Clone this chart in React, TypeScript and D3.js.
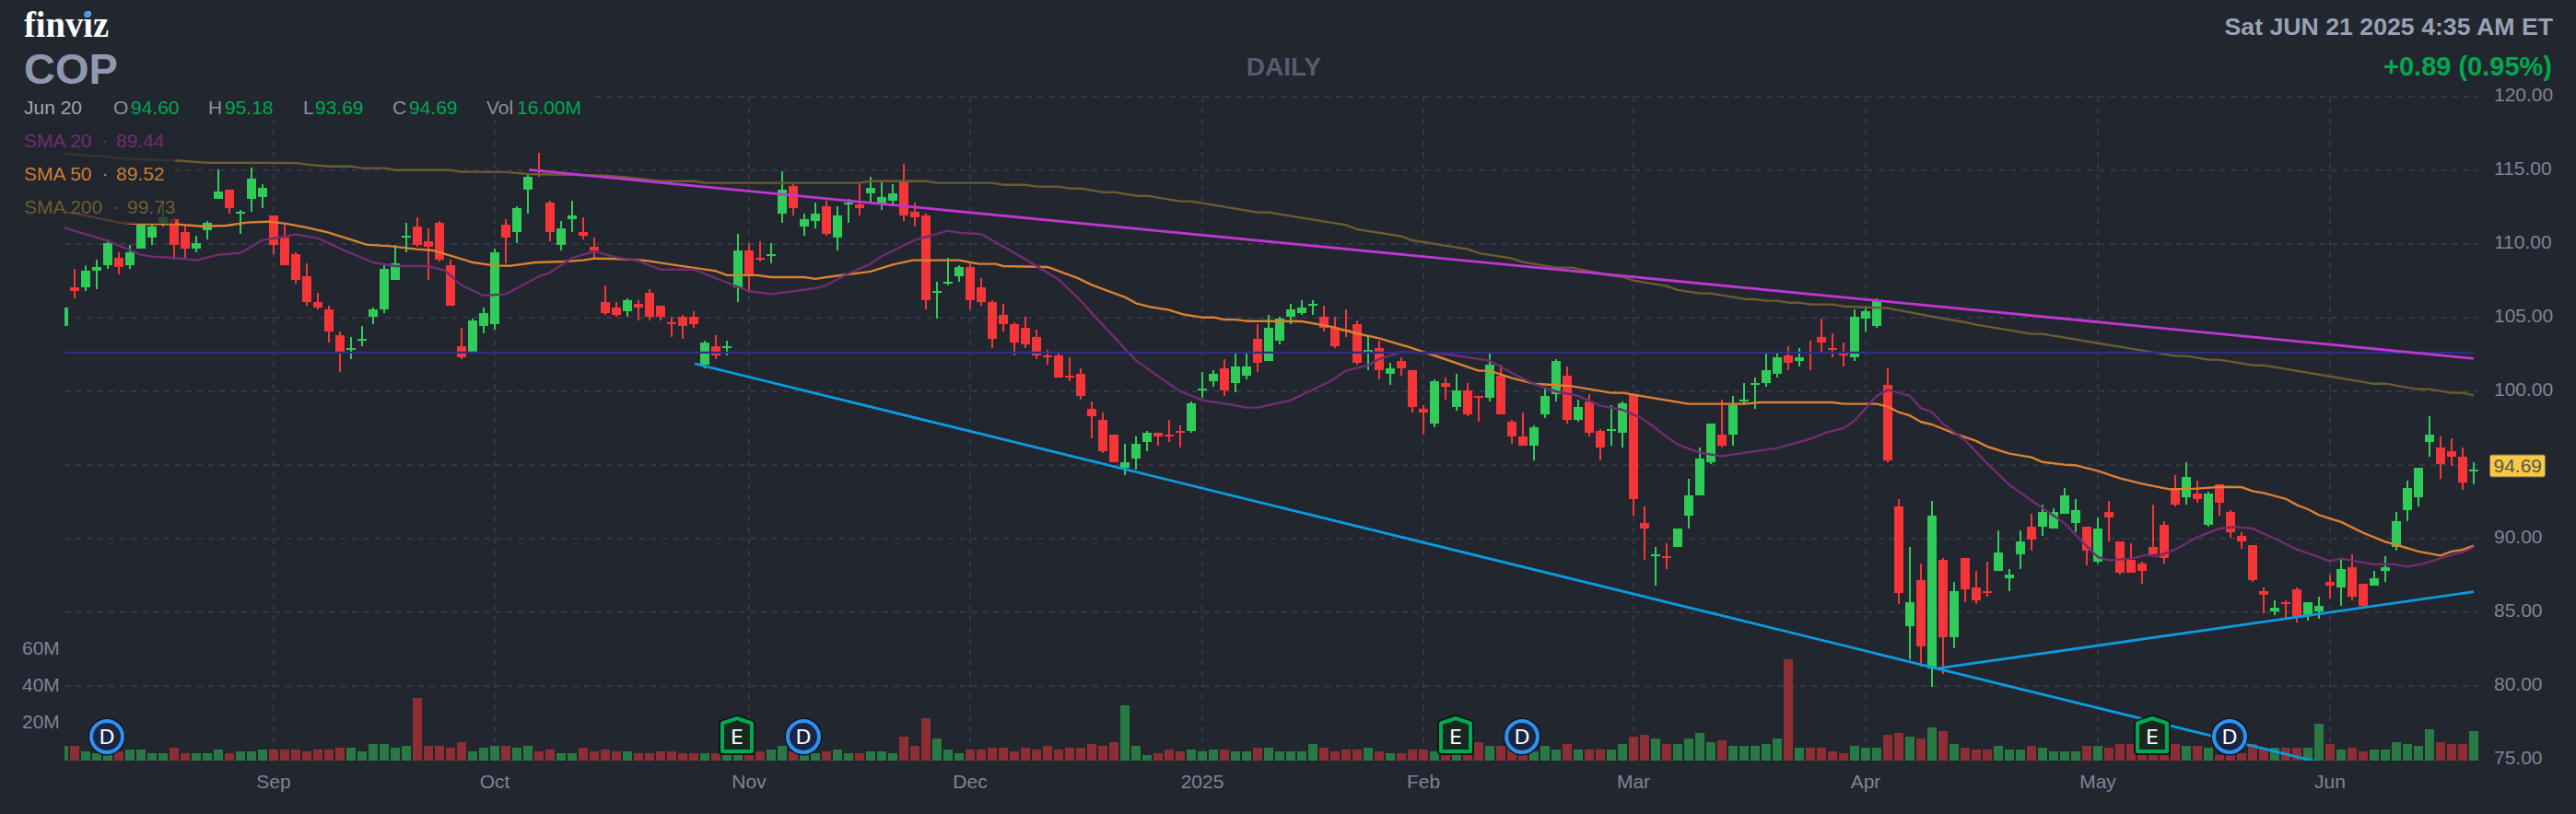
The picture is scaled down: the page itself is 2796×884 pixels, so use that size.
import React, { useEffect, useRef } from 'react';
import * as d3 from 'd3';

const width = 2796;
const height = 884;

const opens = [
  104.44,107.06,107.06,108.19,108.56,109.06,108.56,109.69,110.44,111.31,
  111.69,110.81,109.69,110.94,113.06,113.69,112.06,113.06,113.19,111.94,
  110.44,109.31,107.81,106.06,105.56,103.81,102.81,103.44,105.06,105.56,
  107.56,110.44,111.19,110.19,111.44,108.56,103.06,102.69,104.44,104.56,
  111.31,110.81,113.69,115.06,112.81,109.94,111.69,110.81,109.81,106.06,
  105.69,105.44,105.94,106.69,105.81,104.69,105.06,105.06,101.81,103.06,
  102.94,107.06,109.56,109.06,109.19,112.06,113.94,111.19,111.56,112.56,
  110.44,112.69,112.69,113.44,112.69,112.94,114.31,112.19,111.94,106.69,
  107.31,107.81,108.44,107.06,106.06,105.19,104.56,104.31,103.69,102.44,
  102.44,101.06,101.19,98.81,98.06,97.06,94.81,95.44,96.56,97.19,
  97.06,97.31,97.31,100.06,100.69,101.56,100.56,101.06,103.56,102.06,
  103.44,105.06,105.31,105.81,105.06,104.31,104.19,104.56,102.56,102.94,
  101.19,102.06,101.44,98.81,97.81,100.56,98.94,100.06,99.69,99.56,
  101.06,97.94,96.94,96.31,98.44,99.81,101.06,98.06,99.31,97.31,
  97.31,97.19,99.81,91.06,88.81,88.81,89.44,91.56,92.94,95.19,
  97.06,97.06,99.31,100.44,100.56,101.19,102.44,102.06,102.69,103.69,
  102.94,102.56,102.31,104.94,104.44,100.44,92.19,84.06,87.19,81.19,
  88.56,83.31,88.69,86.69,86.44,87.81,87.31,88.94,90.81,90.81,
  90.69,91.69,91.06,90.81,88.44,91.81,89.81,88.56,88.31,89.44,
  90.94,93.44,92.81,93.06,90.94,93.69,91.81,90.19,89.56,86.44,
  85.06,85.69,86.56,84.81,85.06,87.06,86.69,88.06,86.94,86.81,
  87.81,89.44,91.94,92.81,96.56,96.19,95.94,95.56,94.60,
];
const highs = [
  105.69,108.31,108.54,108.94,110.31,109.44,109.94,111.40,111.31,112.81,
  111.81,111.31,110.56,111.56,115.06,113.69,112.31,115.19,114.06,111.94,
  111.31,109.44,108.69,106.69,105.81,104.06,103.69,104.44,105.69,108.56,
  109.94,111.44,111.81,111.06,111.56,108.94,104.31,104.94,105.69,109.69,
  111.69,112.56,114.69,116.19,112.94,111.56,112.94,111.81,110.44,107.19,
  106.06,106.31,106.19,106.94,105.81,105.06,105.19,105.44,103.44,103.81,
  103.44,110.69,110.06,110.19,110.06,114.94,114.06,112.06,112.81,112.94,
  112.56,113.06,114.19,114.56,114.19,114.06,115.44,112.81,112.06,107.44,
  109.06,108.56,108.81,107.69,106.19,105.94,104.69,105.06,104.19,102.81,
  102.69,102.31,101.56,99.31,98.56,97.06,96.44,96.94,97.31,97.19,
  98.06,97.69,99.31,101.31,101.44,102.19,102.56,102.56,104.56,105.19,
  105.06,105.94,106.19,106.19,105.81,105.06,105.56,104.81,103.81,103.44,
  101.94,102.31,101.44,99.06,100.81,100.94,101.19,100.56,99.69,102.69,
  101.81,98.06,98.56,97.69,100.31,102.19,101.69,99.44,99.81,97.44,
  99.06,99.31,99.81,92.19,89.44,89.69,90.69,94.06,96.19,97.81,
  99.44,99.69,100.56,100.94,102.69,102.69,103.06,102.94,103.44,104.94,
  103.94,103.31,105.56,105.81,106.31,101.56,92.69,89.44,88.31,92.56,
  88.69,87.06,88.69,87.81,88.44,90.56,87.94,90.56,91.69,92.31,
  92.06,93.44,92.69,90.81,91.44,92.56,89.81,89.69,88.44,92.31,
  91.19,94.31,95.19,93.94,93.19,93.69,91.94,90.44,89.56,86.69,
  85.81,85.81,86.69,85.69,86.06,87.56,88.69,88.94,86.94,87.81,
  88.81,91.81,93.94,94.81,98.31,96.94,96.81,96.19,95.18,
];
const lows = [
  104.44,106.31,106.81,106.94,108.31,107.94,108.31,109.69,109.94,111.19,
  108.94,108.94,109.44,110.31,113.06,112.06,110.69,112.19,112.44,109.31,
  108.56,107.31,105.81,105.56,103.31,101.31,102.19,103.06,104.56,105.31,
  107.56,109.44,109.81,107.56,108.81,105.81,102.19,102.69,103.94,104.19,
  108.69,110.06,112.06,114.56,110.19,109.56,110.81,110.31,109.06,105.19,
  105.06,105.06,104.81,104.81,104.81,103.69,103.56,104.31,101.56,102.19,
  102.44,106.06,106.69,108.81,108.69,111.44,111.94,110.56,111.06,110.56,
  109.56,111.44,111.94,112.81,112.31,112.69,111.56,111.19,105.56,104.94,
  107.19,107.44,105.56,105.81,102.94,104.06,102.44,102.94,102.19,101.81,
  100.94,100.69,99.44,96.81,95.81,95.19,94.31,94.69,95.94,96.31,
  96.56,96.19,97.19,99.56,100.31,99.69,99.94,100.81,101.31,102.06,
  103.19,104.56,105.19,105.19,104.06,102.94,103.69,101.81,101.44,100.81,
  100.44,101.06,98.56,97.06,97.56,99.44,98.69,98.31,97.94,99.31,
  98.44,96.44,96.31,95.31,98.19,99.31,97.81,97.94,96.94,95.31,
  96.31,96.19,91.56,88.56,86.81,87.94,89.44,90.69,92.94,95.06,
  96.19,96.31,99.06,98.81,100.31,100.94,101.44,101.69,101.44,102.69,
  102.31,101.69,102.06,104.06,104.31,95.19,85.56,81.81,81.31,79.94,
  80.81,82.56,85.69,85.56,86.06,87.81,86.44,87.94,89.19,90.19,
  90.69,91.69,90.44,88.19,88.31,89.81,87.56,87.69,86.94,88.94,
  88.31,92.19,92.31,92.44,90.81,91.56,90.06,89.31,87.06,84.94,
  84.81,84.56,84.31,84.44,84.56,85.94,85.44,85.81,85.31,86.81,
  87.06,89.19,91.19,92.19,95.56,94.06,94.94,93.31,93.69,
];
const closes = [
  105.69,106.81,108.19,108.44,110.06,108.44,109.44,111.31,111.19,111.81,
  109.94,109.69,110.06,111.44,113.56,112.44,112.19,114.44,113.81,109.94,
  108.56,107.56,106.06,105.69,104.06,102.69,102.94,103.56,105.56,108.31,
  108.69,110.56,109.94,109.81,108.94,105.81,102.31,104.81,105.31,109.44,
  110.44,112.44,114.56,114.94,110.81,111.06,111.94,110.56,109.56,105.31,
  105.19,106.19,105.69,105.06,105.06,104.56,104.44,104.56,103.31,102.44,
  103.06,109.56,107.94,108.94,109.31,113.69,112.44,111.69,112.06,110.69,
  111.94,112.81,112.44,113.81,113.19,113.44,111.94,111.81,106.19,106.81,
  107.44,108.44,106.19,106.06,103.56,104.56,103.31,103.19,102.44,102.31,
  100.94,100.94,99.69,98.31,95.94,95.19,95.19,96.44,97.19,96.94,
  96.94,97.19,99.19,100.19,101.19,100.06,101.69,101.69,101.94,104.31,
  104.94,105.56,105.69,105.94,104.31,103.06,104.06,101.94,102.81,101.44,
  101.56,101.56,98.94,98.56,100.69,100.31,100.06,98.44,99.56,101.81,
  98.44,96.94,96.31,97.56,99.69,102.06,98.06,98.94,97.19,96.19,
  97.44,99.19,92.69,90.69,88.94,88.69,90.69,92.94,95.44,97.81,
  96.31,99.06,99.44,100.56,101.44,102.31,101.94,102.31,102.56,103.31,
  102.81,102.44,105.06,105.44,106.19,95.31,86.31,85.69,82.69,91.56,
  83.31,86.44,86.56,85.81,86.31,89.06,87.56,89.81,89.94,91.81,
  91.81,92.94,91.94,89.19,90.69,91.44,87.69,87.69,87.81,88.94,
  88.69,92.31,94.19,92.69,93.06,92.44,90.44,89.81,87.19,86.19,
  85.31,85.56,84.69,85.69,85.44,86.81,87.94,86.06,85.44,87.31,
  88.06,91.19,93.44,94.81,97.06,95.06,95.56,93.81,94.69,
];
// volume in millions
const volumes = [
  8,8,5,4,4,5,6,6,4,4,7,4,4,4,6,4,5,5,6,6,
  6,6,5,6,6,7,7,5,9,9,7,8,34,8,8,7,10,5,7,8,
  8,7,8,5,6,4,4,7,5,6,5,5,4,4,5,5,4,4,4,4,
  3,3,4,5,6,8,5,4,4,5,6,4,4,5,5,4,13,8,23,12,
  6,4,6,6,7,7,5,7,6,8,6,7,7,9,8,10,30,8,3,4,
  6,5,6,5,6,6,5,5,7,7,5,5,5,9,7,5,6,6,7,5,
  4,4,6,6,5,3,3,4,10,8,8,7,3,5,8,6,9,6,6,6,
  6,9,13,14,12,9,9,12,15,10,11,8,8,8,9,12,55,7,7,7,
  5,4,8,7,7,14,15,13,12,18,16,9,7,6,6,8,6,6,8,7,
  5,5,5,8,8,7,9,9,3,3,3,9,8,8,7,3,3,4,9,7,
  7,7,7,7,20,9,6,7,5,6,6,10,9,8,17,10,9,9,16,
];

// moving averages as [bar, price]
const sma20: [number, number][] = [
  [0,111.13],[4,110.21],[5,109.9],[7,109.27],[8,109.15],[10,109.06],[12,108.9],[14,109.27],[16,109.4],[18,110.27],
  [20,110.5],[21,110.65],[23,110.4],[25,109.7],[28,108.75],[30,108.5],[33,108.5],[34.5,108.2],[36,107.2],[38,106.5],
  [40,106.6],[41,107],[43,107.8],[44,108.06],[46,109.06],[48,109.5],[50,109.1],[52,108.85],[54,108.27],[57,108.27],
  [59.6,107.5],[62,106.8],[64,106.6],[66,106.8],[68,107],[69,107.2],[71,108],[73,108.65],[74,109.17],[77,110.27],
  [80,110.9],[81,110.77],[83,110.67],[84.6,110],[86,109.4],[87,108.96],[90,107.6],[92,106.15],[93.5,104.9],[97,102.1],
  [100,100.5],[101,100],[103,99.4],[105,99.17],[107,98.9],[108,98.9],[109,99.06],[111,99.4],[114.7,100.73],[116,101.4],
  [118,101.77],[119,102.19],[121,102.67],[125,102.54],[129,102.08],[131,101.25],[133,100.5],[135,100],[137,99.69],[139,99.02],
  [141,98.75],[142.6,98.23],[144,97.5],[145,96.9],[146,96.4],[148,95.83],[150,95.6],[154,96.04],[155,96.15],[156.2,96.4],
  [158,96.77],[159.4,97.19],[161,97.5],[162,98.02],[163,98.85],[164,99.69],[165,100.1],[167,99.69],[168,98.85],[169,98.6],
  [170,97.8],[172,96.67],[174,95.1],[176,93.65],[178,92.6],[180,91.56],[181,91.04],[182.6,89.79],[184,88.75],[185,88.54],
  [187,88.65],[188.4,88.9],[189.4,88.8],[191,89.27],[193,90.1],[195,90.69],[196.5,90.8],[198,90.69],[200,90],[202,89.27],
  [205,88.48],[206,88.65],[208.8,88.27],[210.7,88.27],[212,88.1],[213.3,88.27],[214.7,88.6],[216.3,88.96],[217,89.06],[218,89.44],
];
const sma50: [number, number][] = [
  [0,112.19],[1.7,111.98],[5,111.46],[7,111.35],[10,111.35],[12.5,111.2],[14.7,111.25],[16.6,111.46],[18.5,111.52],[20,111.4],
  [21.8,111.15],[23.7,110.83],[25.5,110.42],[27.4,109.96],[29.6,109.85],[31.9,109.65],[33.3,109.58],[35.2,109.17],[37,108.75],[39,108.54],
  [40.4,108.52],[42.7,108.75],[45.3,108.81],[47,108.9],[48,109.02],[50,109],[52.6,108.88],[55.6,108.54],[59,108.17],[60,107.88],
  [62.7,107.88],[64,107.75],[67,107.75],[68,107.63],[69,107.75],[73,108.13],[75,108.6],[76.8,108.9],[81,108.9],[82.8,108.65],
  [84.3,108.65],[85,108.5],[89,108.44],[91.7,107.7],[93,107.23],[95,106.67],[96,106.4],[97,105.98],[98.3,105.73],[100,105.52],
  [101.4,105.2],[103,105.02],[104,105.02],[105,104.87],[106,104.87],[107,104.77],[109.6,104.77],[112,104.75],[114.7,104.38],[117,103.92],
  [119,103.6],[121.8,102.98],[124.7,102.25],[128,101.4],[129,101.4],[131,100.9],[133,100.52],[135,100.42],[136.4,100.35],[140,99.9],
  [141,99.9],[147,99.15],[152,99.15],[153.4,99.25],[160,99.25],[161,99.15],[164,99.15],[165,98.96],[166,98.58],[167,98.36],
  [168,97.92],[169,97.75],[171,97.15],[173,96.63],[174,96.25],[176,95.77],[178,95.52],[179,95.2],[181,95.02],[182,94.98],
  [184,94.6],[186,94.1],[188,93.73],[190.5,93.35],[193,93.4],[195,93.52],[197,93.5],[198,93.23],[199,93.1],[201,92.7],
  [202,92.29],[203,92],[204,91.6],[206,91.13],[208,90.4],[210,89.79],[211,89.58],[213,89.13],[215,88.85],[216,89.13],
  [217,89.25],[218,89.52],
];
const sma200: [number, number][] = [
  [0,116.15],[3.6,115.94],[6,115.77],[10,115.67],[13,115.52],[16.6,115.52],[21,115.5],[22,115.4],[24,115.27],[26,115.27],
  [27,115.15],[29,115.15],[30,115.02],[35,115.02],[36,114.9],[40,114.88],[42,114.75],[49,114.65],[51,114.52],[52.6,114.4],
  [54,114.27],[57,114.27],[58,114.15],[72,114.15],[73,114.27],[78,114.27],[79,114.15],[84,114.15],[85,114.02],[87,114.02],
  [88,113.9],[90,113.9],[91,113.77],[92,113.77],[94,113.52],[95,113.52],[97,113.27],[98,113.27],[101,112.9],[102,112.9],
  [108,112.15],[109,112.15],[111,111.9],[116,111.29],[117,111],[121,110.52],[122,110.25],[127,109.65],[128,109.38],[131,109.02],
  [132,108.77],[135,108.4],[136.4,108.4],[139,108],[140,107.85],[141,107.77],[142,107.52],[145,107.15],[146,106.88],[148,106.65],
  [149,106.65],[152,106.27],[153,106.25],[154,106.15],[155,106.15],[156,106.02],[157,106.02],[158,105.9],[160,105.9],[161,105.77],
  [165,105.65],[169,105.08],[172,104.69],[173,104.52],[178,103.9],[179,103.9],[191,102.4],[192,102.4],[194,102.15],[195,102.15],
  [198,101.77],[199,101.77],[208.9,100.52],[210,100.52],[212.9,100.15],[214,100.15],[216,99.9],[217,99.9],[218,99.73],
];

const trendPurple: [number, number][] = [[42.1,115.04],[218,102.23]];
const trendBlueDown: [number, number][] = [[57.1,101.88],[203.6,74.9]];
const trendBlueUp: [number, number][] = [[169.5,81.19],[218,86.4]];
const levelNavy: [number, number][] = [[0,102.63],[218,102.63]];

const priceTicks = [120,115,110,105,100,95,90,85,80,75];
const volumeTicks = [20,40,60];
const monthBars = [19,39,62,82,103,123,142,163,184,205];
const monthLabels = ['Sep','Oct','Nov','Dec','2025','Feb','Mar','Apr','May','Jun'];
const dividendBars = [4,67,132,196];
const earningsBars = [61,126,189];

const lastClose = 94.69;

const ohlcLabels = [
  { label: 'O', value: '94.60', x: 123, vx: 142 },
  { label: 'H', value: '95.18', x: 226, vx: 244 },
  { label: 'L', value: '93.69', x: 329, vx: 342 },
  { label: 'C', value: '94.69', x: 426, vx: 444 },
  { label: 'Vol', value: '16.00M', x: 528, vx: 561 },
];
const smaLegend = [
  { name: 'SMA 20', value: '89.44', color: '#6f2d70', y: 160, dot: 110.5, vx: 126 },
  { name: 'SMA 50', value: '89.52', color: '#c97c33', y: 196, dot: 110.5, vx: 126 },
  { name: 'SMA 200', value: '99.73', color: '#6a5c33', y: 232, dot: 121.5, vx: 138 },
];

const BG = '#22262f';
const GREEN = '#30cc5a';
const RED = '#f63538';
const TEXT_GREEN = '#00a84f';
const AXIS = '#7e8498';
const GRID = '#323742';
const SANS = '"Liberation Sans", Arial, sans-serif';

const App: React.FC = () => {
  const svgRef = useRef<SVGSVGElement | null>(null);

  useEffect(() => {
    const svg = d3.select(svgRef.current);
    svg.selectAll('*').remove();

    const x = d3.scaleLinear().domain([0, 218]).range([69, 2685]);
    const y = d3.scaleLinear().domain([75, 120]).range([825, 105]);
    const yVol = d3.scaleLinear().domain([0, 60]).range([826, 706]);

    const clipId = 'plot-clip';
    svg.append('defs').append('clipPath').attr('id', clipId)
      .append('rect').attr('x', 70).attr('y', 0).attr('width', 2620).attr('height', 826);

    svg.append('rect').attr('width', width).attr('height', height).attr('fill', BG);

    // grid
    const grid = svg.append('g').attr('stroke', GRID).attr('stroke-width', 2).attr('stroke-dasharray', '6 6');
    priceTicks.filter(d => d > 75).forEach(d => {
      grid.append('line').attr('x1', 70).attr('x2', 2690).attr('y1', y(d)).attr('y2', y(d));
    });
    monthBars.forEach(d => {
      grid.append('line').attr('x1', x(d)).attr('x2', x(d)).attr('y1', 105).attr('y2', 826);
    });

    const plot = svg.append('g').attr('clip-path', `url(#${clipId})`);

    // volume
    plot.append('g').selectAll('rect').data(volumes).join('rect')
      .attr('x', (_, i) => x(i) - 5)
      .attr('width', 10)
      .attr('y', d => yVol(d))
      .attr('height', d => yVol(0) - yVol(d))
      .attr('fill', (_, i) => closes[i] > opens[i] ? GREEN : RED)
      .attr('opacity', 0.5);

    // candles
    const candles = plot.append('g').selectAll('g').data(d3.range(opens.length)).join('g')
      .attr('fill', i => closes[i] > opens[i] ? GREEN : RED);
    candles.append('rect')
      .attr('x', i => x(i) - 1)
      .attr('width', 2)
      .attr('y', i => y(highs[i]))
      .attr('height', i => y(lows[i]) - y(highs[i]));
    candles.append('rect')
      .attr('x', i => x(i) - 5)
      .attr('width', 10)
      .attr('y', i => y(Math.max(opens[i], closes[i])))
      .attr('height', i => Math.max(2, Math.abs(y(opens[i]) - y(closes[i]))));

    // moving averages and drawn lines
    const line = d3.line<[number, number]>().x(d => x(d[0])).y(d => y(d[1]));
    const drawLine = (data: [number, number][], color: string, w: number) =>
      plot.append('path').datum(data)
        .attr('fill', 'none').attr('stroke', color).attr('stroke-width', w)
        .attr('stroke-linejoin', 'round').attr('d', line);

    drawLine(sma200, '#6b5c30', 2.4);
    drawLine(sma50, '#dc8130', 2.4);
    drawLine(sma20, '#6f2d70', 2.4);
    drawLine(levelNavy, '#2e2e85', 2.4);
    drawLine(trendPurple, '#c036d4', 2.8);
    drawLine(trendBlueDown, '#0a9be0', 2.8);
    drawLine(trendBlueUp, '#0a9be0', 2.8);

    // dividend and earnings markers
    const badgeY = 800;
    dividendBars.forEach(b => {
      const g = svg.append('g').attr('transform', `translate(${x(b) - 1},${badgeY})`);
      g.append('circle').attr('r', 20.5).attr('fill', '#10141b');
      g.append('circle').attr('r', 17).attr('fill', '#1a2545').attr('stroke', '#2f91ef').attr('stroke-width', 4);
      g.append('text').attr('text-anchor', 'middle').attr('y', 8)
        .attr('font-family', '"DejaVu Sans"').attr('font-size', 22).attr('fill', '#ffffff').text('D');
    });
    const shield = 'M-16,-14.5 L0,-20 L16,-14.5 L16,16 L-16,16 Z';
    earningsBars.forEach(b => {
      const g = svg.append('g').attr('transform', `translate(${x(b) - 1},${badgeY})`);
      g.append('path').attr('d', shield).attr('fill', '#10141b').attr('stroke', '#10141b')
        .attr('stroke-width', 8).attr('stroke-linejoin', 'round');
      g.append('path').attr('d', shield).attr('fill', '#16281f').attr('stroke', '#00a84f')
        .attr('stroke-width', 4).attr('stroke-linejoin', 'round');
      g.append('text').attr('text-anchor', 'middle').attr('y', 8)
        .attr('font-family', '"DejaVu Sans"').attr('font-size', 22).attr('fill', '#ffffff').text('E');
    });

    // axes
    const priceAxis = svg.append('g').attr('transform', 'translate(2707,0)')
      .call(d3.axisRight(y).tickValues(priceTicks).tickFormat(d3.format('.2f')).tickSize(0).tickPadding(0).offset(0));
    const volAxis = svg.append('g').attr('transform', 'translate(24,0)')
      .call(d3.axisRight(yVol).tickValues(volumeTicks).tickFormat(d => `${d}M`).tickSize(0).tickPadding(0).offset(0));
    const timeAxis = svg.append('g').attr('transform', 'translate(0,856)')
      .call(d3.axisBottom(x).tickValues(monthBars).tickFormat((_, k) => monthLabels[k]).tickSize(0).tickPadding(0).offset(0));
    [priceAxis, volAxis, timeAxis].forEach(a => {
      a.select('.domain').remove();
      a.selectAll('text').attr('fill', AXIS).attr('font-family', SANS).attr('font-size', 21);
    });
    priceAxis.selectAll('text').attr('dy', '0.24em');
    volAxis.selectAll('text').attr('dy', '0.24em');
    timeAxis.selectAll('text').attr('y', 0).attr('dy', 0);

    // last price tag
    const tagY = y(lastClose);
    svg.append('rect').attr('x', 2702.5).attr('y', tagY - 16).attr('width', 60).attr('height', 24)
      .attr('rx', 2).attr('fill', '#f7c948').attr('stroke', '#7d6a34').attr('stroke-width', 1);
    svg.append('text').attr('x', 2706.5).attr('y', tagY + 3).attr('font-family', SANS).attr('font-size', 21)
      .attr('fill', '#5b5647').text(lastClose.toFixed(2));

    // legend backdrop
    svg.append('rect').attr('x', 0).attr('y', 100).attr('width', 645).attr('height', 30).attr('fill', BG);
    svg.append('rect').attr('x', 0).attr('y', 130).attr('width', 190).attr('height', 113).attr('fill', BG).attr('opacity', 0.75);

    const text = (tx: number, ty: number, s: string, size: number, fill: string, weight = 'normal', anchor = 'start') =>
      svg.append('text').attr('x', tx).attr('y', ty).attr('font-family', SANS).attr('font-size', size)
        .attr('font-weight', weight).attr('text-anchor', anchor).attr('fill', fill).text(s);

    // header
    svg.append('text').attr('x', 26).attr('y', 39.5).attr('font-family', '"Liberation Serif"').attr('font-size', 40)
      .attr('font-weight', 'bold').attr('fill', '#ffffff').attr('textLength', 92).attr('lengthAdjust', 'spacingAndGlyphs').text('finviz');
    svg.append('circle').attr('cx', 94.6).attr('cy', 15.7).attr('r', 3.6).attr('fill', '#3b9bf0');
    text(26, 90.5, 'COP', 47, '#8f98ae', 'bold');
    text(1393.5, 81.5, 'DAILY', 28, '#555c70', 'bold', 'middle');
    text(2771, 38, 'Sat JUN 21 2025 4:35 AM ET', 26.7, '#98a1b6', 'bold', 'end');
    text(2770, 81.5, '+0.89 (0.95%)', 29, TEXT_GREEN, 'bold', 'end');

    text(26, 124, 'Jun 20', 21, '#a0a5b2');
    ohlcLabels.forEach(d => {
      text(d.x, 124, d.label, 21, '#8a90a2');
      text(d.vx, 124, d.value, 21, TEXT_GREEN);
    });
    smaLegend.forEach(d => {
      text(26, d.y, d.name, 21, d.color);
      text(d.dot, d.y - 1, '·', 21, d.color);
      text(d.vx, d.y, d.value, 21, d.color);
    });
  }, []);

  return (
    <>
      <style>{`body{margin:0;background:${BG}}`}</style>
      <svg ref={svgRef} viewBox={`0 0 ${width} ${height}`} width={width} height={height} style={{ display: 'block' }}></svg>
    </>
  );
};

export default App;
